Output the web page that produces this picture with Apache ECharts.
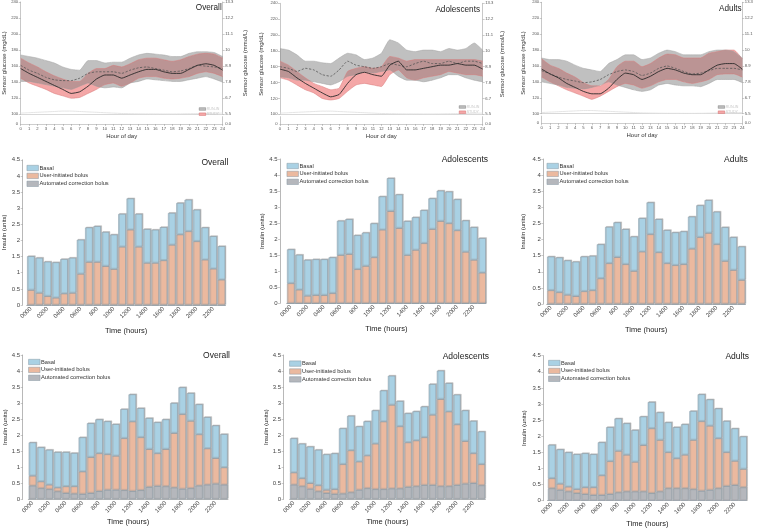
<!DOCTYPE html>
<html><head><meta charset="utf-8">
<script src="https://cdn.jsdelivr.net/npm/echarts@6/dist/echarts.min.js"></script>
<style>html,body{margin:0;padding:0;background:#fff}#c{width:766px;height:529px}</style>
</head><body><div id="c"></div><script>
// ---------- tick labels / categories ----------
const hourLabels = ['0','1','2','3','4','5','6','7','8','9','10','11','12','13','14','15','16','17','18','19','20','21','22','23','24'];
const mmolTicks = ['5.5','6.7','7.8','8.9','10','11.1','12.2','13.3'];
const timeLabels = ['0000','0100','0200','0300','0400','0500','0600','0700','800','900','1000','1100','1200','1300','1400','1500','1600','1700','1800','1900','2000','2100','2200','2300'];
const panelTitles = ['Overall','Adolescents','Adults'];
const legendGlucose = ['RUN-IN','STUDY'];
const legendInsulin = ['Basal','User-initiated bolus','Automated correction bolus'];

// ---------- sensor glucose (mg/dL), hourly ----------
const overallRunInP75 = [174,172,170,167,164,159,156,155,167,167,164,165,165,170,174,176,175,174,172,172,176,178,178,177,172];
const overallRunInP25 = [141,141,139,137,135,133,131,135,139,135,133,134,133,139,141,144,143,142,141,141,143,145,147,144,140];
const overallRunInMed = [161,155,151,146,143,142,142,145,151,153,153,153,151,155,158,159,157,155,153,154,157,161,160,159,157];
const overallStudyP75 = [170,164,159,153,148,144,141,141,151,157,157,161,159,163,168,170,170,168,166,168,172,175,176,175,170];
const overallStudyP25 = [145,139,135,131,126,123,120,121,126,131,137,139,135,139,145,147,147,145,144,145,147,151,153,151,147];
const overallStudyMed = [157,151,146,141,136,131,126,128,135,144,149,149,145,149,153,156,156,153,151,151,156,161,163,161,155];
const overallLow = [101.5,102,102.5,103,103.5,104,104,103.5,103,102.5,102,101.5,101,100.8,100.6,100.5,100.5,100.4,100.4,100.5,100.7,100.9,101.1,101.3,101.5];

const adolRunInP75 = [183,181,175,167,167,165,164,171,177,175,169,171,177,194,190,181,179,181,181,179,183,181,183,190,181];
const adolRunInP25 = [147,146,143,143,141,139,137,141,148,150,154,152,154,156,148,143,143,141,143,146,150,150,146,143,141];
const adolRunInMed = [160,158,154,158,156,150,148,156,167,162,160,158,160,164,162,160,164,167,164,164,167,164,167,167,164];
const adolStudyP75 = [167,162,154,146,139,135,131,133,154,158,160,158,160,173,171,167,169,169,169,169,169,169,169,169,167];
const adolStudyP25 = [146,143,137,131,127,120,118,120,129,137,139,137,135,150,156,146,143,146,148,150,154,152,150,150,148];
const adolStudyMed = [157,154,146,139,133,127,122,125,139,150,153,150,148,162,167,156,156,158,160,162,162,164,162,162,157];
const adolLow = [101.5,102,102.5,103,103.5,104,104,103.5,103,102.5,102,101.5,101,100.8,100.6,100.5,100.5,100.4,100.4,100.5,100.7,100.9,101.1,101.3,101.5];

const adultRunInP75 = [170,168,168,166,161,157,155,153,163,168,174,174,168,170,176,180,178,174,174,174,178,180,180,178,170];
const adultRunInP25 = [140,138,136,133,132,131,133,136,140,136,133,130,128,130,136,138,136,135,135,134,138,143,143,143,139];
const adultRunInMed = [154,150,146,143,141,139,140,143,149,153,155,153,148,151,157,160,157,153,150,151,154,157,157,157,155];
const adultStudyP75 = [169,161,157,151,146,139,135,135,143,159,166,166,159,163,170,175,174,170,170,170,176,178,180,180,169];
const adultStudyP25 = [146,140,135,130,126,122,118,122,128,134,138,136,132,135,140,143,143,140,138,140,143,149,150,150,146];
const adultStudyMed = [156,150,145,138,133,128,125,125,132,143,151,149,143,147,153,157,155,151,149,149,155,161,163,163,156];
const adultLow = [101.5,102,102.5,103,103.5,104,104,103.5,103,102.5,102,101.5,101,100.8,100.6,100.5,100.5,100.4,100.4,100.5,100.7,100.9,101.1,101.3,101.5];

// ---------- insulin (units), run-in period (middle row) ----------
const overallRunInBasal = [1.05,1.09,1.07,1.10,1.07,1.09,1.06,1.07,1.11,1.06,1.07,1.02,0.97,1.02,1.05,1.03,1.03,0.99,0.98,0.98,0.98,1.00,1.01,1.04];
const overallRunInUser  = [0.46,0.37,0.27,0.22,0.35,0.37,0.96,1.33,1.33,1.20,1.11,1.80,2.33,1.80,1.30,1.30,1.38,1.86,2.18,2.28,1.97,1.40,1.12,0.78];
const overallRunInAuto  = [0,0,0,0,0,0,0,0,0,0,0,0,0,0,0,0,0,0,0,0,0,0,0,0];
const adolRunInBasal = [1.06,1.09,1.12,1.12,1.12,1.12,1.07,1.09,1.06,1.04,1.06,1.04,1.03,1.05,1.06,1.02,1.03,0.96,0.95,0.99,0.97,0.98,1.02,1.08];
const adolRunInUser  = [0.62,0.42,0.23,0.25,0.25,0.31,1.50,1.53,1.06,1.16,1.43,2.29,2.87,2.34,1.50,1.66,1.87,2.31,2.56,2.49,2.27,1.60,1.35,0.95];
const adolRunInAuto  = [0,0,0,0,0,0,0,0,0,0,0,0,0,0,0,0,0,0,0,0,0,0,0,0];
const adultRunInBasal = [1.05,1.08,1.07,1.07,1.08,1.07,1.06,1.13,1.08,1.09,1.07,1.04,0.99,1.03,1.03,1.02,1.02,1.00,0.99,1.02,1.01,1.05,1.02,1.04];
const adultRunInUser  = [0.42,0.36,0.28,0.24,0.39,0.42,0.79,1.26,1.45,1.23,1.02,1.62,2.16,1.60,1.26,1.20,1.23,1.71,2.07,2.20,1.85,1.33,1.05,0.74];
const adultRunInAuto  = [0,0,0,0,0,0,0,0,0,0,0,0,0,0,0,0,0,0,0,0,0,0,0,0];

// ---------- insulin (units), study period (bottom row) ----------
const overallStudyBasal = [1.04,1.07,1.09,1.11,1.07,1.04,1.07,1.06,1.06,1.03,0.99,0.91,0.85,0.91,0.97,0.97,0.93,0.94,0.84,0.87,0.94,0.98,1.02,1.04];
const overallStudyUser  = [0.31,0.21,0.14,0.12,0.21,0.23,0.70,1.12,1.18,1.11,1.06,1.62,2.17,1.65,1.18,1.02,1.16,1.70,2.33,2.10,1.60,1.13,0.80,0.54];
const overallStudyAuto  = [0.42,0.34,0.31,0.24,0.19,0.17,0.16,0.19,0.25,0.29,0.29,0.28,0.25,0.28,0.38,0.41,0.40,0.36,0.32,0.34,0.42,0.45,0.48,0.45];
const adolStudyBasal = [1.07,1.08,1.14,1.11,1.11,1.12,1.12,1.08,1.10,1.07,1.04,0.97,0.91,0.79,0.91,0.91,0.96,0.96,0.89,0.89,0.93,0.96,1.01,1.02];
const adolStudyUser  = [0.38,0.25,0.18,0.19,0.10,0.15,0.92,1.31,0.88,1.02,1.42,2.11,2.61,1.94,1.39,1.43,1.49,2.19,2.72,2.33,1.89,1.33,0.93,0.66];
const adolStudyAuto  = [0.45,0.40,0.32,0.24,0.19,0.16,0.17,0.21,0.29,0.34,0.31,0.31,0.33,0.33,0.38,0.40,0.44,0.44,0.40,0.40,0.44,0.48,0.50,0.43];
const adultStudyBasal = [1.04,1.07,1.07,1.09,1.06,1.03,1.03,1.06,1.01,0.98,0.99,0.89,0.82,0.86,0.93,0.97,0.95,0.90,0.84,0.82,0.93,0.97,1.01,1.01];
const adultStudyUser  = [0.31,0.19,0.15,0.12,0.21,0.24,0.61,1.02,1.29,1.14,0.92,1.44,2.01,1.60,1.12,0.93,1.04,1.53,2.16,1.99,1.55,1.05,0.75,0.57];
const adultStudyAuto  = [0.38,0.33,0.28,0.23,0.20,0.17,0.17,0.20,0.25,0.28,0.28,0.28,0.23,0.28,0.38,0.38,0.38,0.35,0.30,0.33,0.38,0.45,0.48,0.41];

// ---------- build option ----------
const FONT = '"Liberation Sans", Arial, Helvetica, sans-serif';
const grid = [], xAxis = [], yAxis = [], series = [], legend = [], title = [], graphic = [];

const glucoseData = [
  {p75r: overallRunInP75, p25r: overallRunInP25, medr: overallRunInMed, p75s: overallStudyP75, p25s: overallStudyP25, meds: overallStudyMed, low: overallLow},
  {p75r: adolRunInP75, p25r: adolRunInP25, medr: adolRunInMed, p75s: adolStudyP75, p25s: adolStudyP25, meds: adolStudyMed, low: adolLow},
  {p75r: adultRunInP75, p25r: adultRunInP25, medr: adultRunInMed, p75s: adultStudyP75, p25s: adultStudyP25, meds: adultStudyMed, low: adultLow}
];
const glucoseGeom = [
  {l:20.7, r:222.7, t:1.3, b:114.3, y0:124, tr:221.7, ty:9, nl:4, nr:245, ny:63, lgx:199, lgy:107},
  {l:280, r:482.7, t:3.3, b:114.3, y0:124, tr:480, ty:10.7, nl:261, nr:502, ny:64, lgx:459, lgy:105},
  {l:541.7, r:742.3, t:2.3, b:113.7, y0:123.3, tr:741.7, ty:9.3, nl:523, nr:null, ny:63, lgx:718, lgy:105}
];

const AX = '#b0b0b0';
glucoseGeom.forEach((g, k) => {
  const d = glucoseData[k];
  const gi = grid.length;
  grid.push({left:g.l, top:g.t, width:g.r-g.l, height:g.b-g.t});
  grid.push({left:g.l, top:g.b+2.4, width:g.r-g.l, height:g.y0-g.b-2.4});
  const xi = xAxis.length;
  xAxis.push({gridIndex:gi, type:'category', data:hourLabels, boundaryGap:false,
    axisLine:{lineStyle:{color:'#cfcfcf', width:0.8}}, axisTick:{show:false}, axisLabel:{show:false}, splitLine:{show:false}});
  xAxis.push({gridIndex:gi+1, type:'category', data:hourLabels, boundaryGap:false, position:'bottom',
    axisLine:{lineStyle:{color:AX, width:0.7}}, axisTick:{interval:0, length:2, lineStyle:{color:'#999', width:0.5}},
    axisLabel:{interval:0, fontSize:4.2, color:'#555', margin:2.5, fontFamily:FONT},
    name:'Hour of day', nameLocation:'middle', nameGap:9.5, nameTextStyle:{fontSize:6, color:'#333', fontFamily:FONT}});
  xAxis.push({gridIndex:gi+1, type:'category', data:hourLabels, boundaryGap:false, position:'top',
    axisLine:{lineStyle:{color:'#cfcfcf', width:0.8}}, axisTick:{show:false}, axisLabel:{show:false}});
  const yi = yAxis.length;
  const yCommon = {axisLine:{show:true, lineStyle:{color:AX, width:0.7}}, axisTick:{show:true, length:2, lineStyle:{color:'#999', width:0.5}}, splitLine:{show:false}};
  yAxis.push(Object.assign({gridIndex:gi, type:'value', min:100, max:240, interval:20, position:'left',
    axisLabel:{fontSize:4.2, color:'#555', margin:2.5, fontFamily:FONT}}, yCommon));
  yAxis.push(Object.assign({gridIndex:gi, type:'value', min:100, max:240, interval:20, position:'right',
    axisLabel:{fontSize:4.2, color:'#555', margin:2.5, fontFamily:FONT, formatter:(v)=>mmolTicks[Math.round((v-100)/20)]}}, yCommon));
  yAxis.push(Object.assign({gridIndex:gi+1, type:'value', min:0, max:10, interval:10, position:'left',
    axisLabel:{fontSize:4.2, color:'#555', margin:2.5, fontFamily:FONT, formatter:(v)=> v===0?'0':''}}, yCommon, {axisTick:{show:false}}));
  yAxis.push(Object.assign({gridIndex:gi+1, type:'value', min:0, max:10, interval:10, position:'right',
    axisLabel:{fontSize:4.2, color:'#555', margin:2.5, fontFamily:FONT, formatter:(v)=> v===0?'0.0':''}}, yCommon, {axisTick:{show:false}}));

  const base = {type:'line', xAxisIndex:xi, yAxisIndex:yi, symbol:'none', silent:true, animation:false, smooth:0.15};
  // study IQR band (opaque pink) first
  series.push(Object.assign({}, base, {stack:'s'+k, data:d.p25s, lineStyle:{color:'#d97b7b', width:0.5}}));
  series.push(Object.assign({}, base, {name:'STUDY', stack:'s'+k, data:d.p75s.map((v,i)=>v-d.p25s[i]),
    lineStyle:{color:'#d97b7b', width:0.5}, itemStyle:{color:'#f4a7a7', borderColor:'#d05a5a'},
    areaStyle:{color:'#f4a7a7', opacity:1}}));
  // run-in IQR band (translucent grey) on top
  series.push(Object.assign({}, base, {stack:'r'+k, data:d.p25r, lineStyle:{color:'#9d9d9d', width:0.5}}));
  series.push(Object.assign({}, base, {name:'RUN-IN', stack:'r'+k, data:d.p75r.map((v,i)=>v-d.p25r[i]),
    lineStyle:{color:'#a5a5a5', width:0.5}, itemStyle:{color:'#c0c0c0', borderColor:'#666'},
    areaStyle:{color:'rgba(129,129,129,0.5)', opacity:1}}));
  series.push(Object.assign({}, base, {data:d.low, lineStyle:{color:'#e2e2e2', width:0.9}}));
  series.push(Object.assign({}, base, {data:d.medr, lineStyle:{color:'#555', width:0.8, type:[2.2,1.6]}}));
  series.push(Object.assign({}, base, {data:d.meds, lineStyle:{color:'#2a2a2a', width:0.9}}));

  legend.push({data:legendGlucose, orient:'vertical', left:g.lgx, top:g.lgy, icon:'rect', itemWidth:6.5, itemHeight:2.6, itemGap:1.2,
    padding:0, selectedMode:false, textStyle:{fontSize:3.6, color:'#c8c8c8', fontFamily:FONT, padding:[0,0,0,-4]},
    itemStyle:{borderWidth:0.4}});
  title.push({text:panelTitles[k], right:766-g.tr, top:g.ty-5, padding:0,
    textStyle:{fontSize:8.2, fontWeight:'normal', color:'#1a1a1a', fontFamily:FONT}});
  graphic.push({type:'text', x:g.nl, y:g.ny, rotation:Math.PI/2, silent:true,
    style:{text:'Sensor glucose (mg/dL)', fontSize:6, fill:'#333', fontFamily:FONT, align:'center', verticalAlign:'middle'}});
  if (g.nr !== null) graphic.push({type:'text', x:g.nr, y:g.ny, rotation:Math.PI/2, silent:true,
    style:{text:'Sensor glucose (mmol/L)', fontSize:6, fill:'#333', fontFamily:FONT, align:'center', verticalAlign:'middle'}});
});

// ---------- insulin bar panels ----------
const insulinData = [
  [overallRunInBasal, overallRunInUser, overallRunInAuto],
  [adolRunInBasal, adolRunInUser, adolRunInAuto],
  [adultRunInBasal, adultRunInUser, adultRunInAuto],
  [overallStudyBasal, overallStudyUser, overallStudyAuto],
  [adolStudyBasal, adolStudyUser, adolStudyAuto],
  [adultStudyBasal, adultStudyUser, adultStudyAuto]
];
const barGeom = [
  {l:26.7, w:198.9, t:159.8, h:145.2, off:4, ng:15, xg:21.5, tr:228.3, ty:163, lgx:26.7, lgy:165},
  {l:286.6, w:199.6, t:159, h:144.3, off:6.6, ng:12.7, xg:21.5, tr:488, ty:160.7, lgx:286.7, lgy:163},
  {l:546.7, w:198.9, t:159, h:145, off:3.4, ng:17, xg:21.5, tr:747.7, ty:160.7, lgx:546.7, lgy:163},
  {l:28.3, w:199.7, t:355, h:144.3, off:5.6, ng:14.7, xg:19, tr:230, ty:356.7, lgx:28.3, lgy:359},
  {l:289.6, w:195.8, t:355, h:144.3, off:6, ng:13.3, xg:19, tr:489, ty:357.7, lgx:289.3, lgy:360.6},
  {l:547.5, w:199.7, t:355.7, h:145, off:4.2, ng:16.3, xg:19, tr:749, ty:357.7, lgx:548.3, lgy:360}
];
const barColors = {basal:'#a9d1e4', user:'#ebb99f', auto:'#b5b7bc'};

barGeom.forEach((g, k) => {
  const [basal, user, auto] = insulinData[k];
  const gi = grid.length;
  grid.push({left:g.l, top:g.t, width:g.w, height:g.h});
  const xi = xAxis.length;
  xAxis.push({gridIndex:gi, type:'category', data:timeLabels,
    axisLine:{lineStyle:{color:'#9a9a9a', width:0.7}},
    axisTick:{interval:0, alignWithLabel:true, length:2, lineStyle:{color:'#999', width:0.5}},
    axisLabel:{interval:1, rotate:45, fontSize:6, color:'#444', margin:3, fontFamily:FONT},
    name:'Time (hours)', nameLocation:'middle', nameGap:g.xg, nameTextStyle:{fontSize:7.5, color:'#222', fontFamily:FONT}});
  const yi = yAxis.length;
  yAxis.push({gridIndex:gi, type:'value', min:0, max:4.5, interval:0.5, offset:g.off,
    axisLine:{show:true, lineStyle:{color:'#9a9a9a', width:0.7}},
    axisTick:{show:true, length:2, lineStyle:{color:'#999', width:0.5}}, splitLine:{show:false},
    axisLabel:{fontSize:6, color:'#444', margin:2.5, fontFamily:FONT},
    name:'Insulin (units)', nameLocation:'middle', nameGap:g.ng, nameTextStyle:{fontSize:6, color:'#222', fontFamily:FONT}});
  const bb = {type:'bar', xAxisIndex:xi, yAxisIndex:yi, stack:'b'+k, barCategoryGap:'10%', silent:true, animation:false};
  const st = (c) => ({color:c, borderColor:'#8797a3', borderWidth:0.5, shadowColor:'rgba(160,160,160,0.7)', shadowOffsetX:1, shadowOffsetY:-0.8, shadowBlur:0});
  series.push(Object.assign({}, bb, {name:'Automated correction bolus', data:auto, itemStyle:st(barColors.auto)}));
  series.push(Object.assign({}, bb, {name:'User-initiated bolus', data:user, itemStyle:st(barColors.user)}));
  series.push(Object.assign({}, bb, {name:'Basal', data:basal, itemStyle:st(barColors.basal)}));
  legend.push({data:legendInsulin, orient:'vertical', left:g.lgx, top:g.lgy, icon:'rect', itemWidth:11.5, itemHeight:5.4, itemGap:1.9,
    padding:0, selectedMode:false, textStyle:{fontSize:5.7, color:'#333', fontFamily:FONT, padding:[0,0,0,-4]},
    itemStyle:{borderColor:'#8797a3', borderWidth:0.5}});
  title.push({text:panelTitles[k % 3], right:766-g.tr, top:g.ty-5.2, padding:0,
    textStyle:{fontSize:8.5, fontWeight:'normal', color:'#1a1a1a', fontFamily:FONT}});
});

const chart = echarts.init(document.getElementById('c'), null, {renderer:'canvas'});
chart.setOption({animation:false, backgroundColor:'#fff', textStyle:{fontFamily:FONT},
  grid, xAxis, yAxis, series, legend, title, graphic});
</script></body></html>
